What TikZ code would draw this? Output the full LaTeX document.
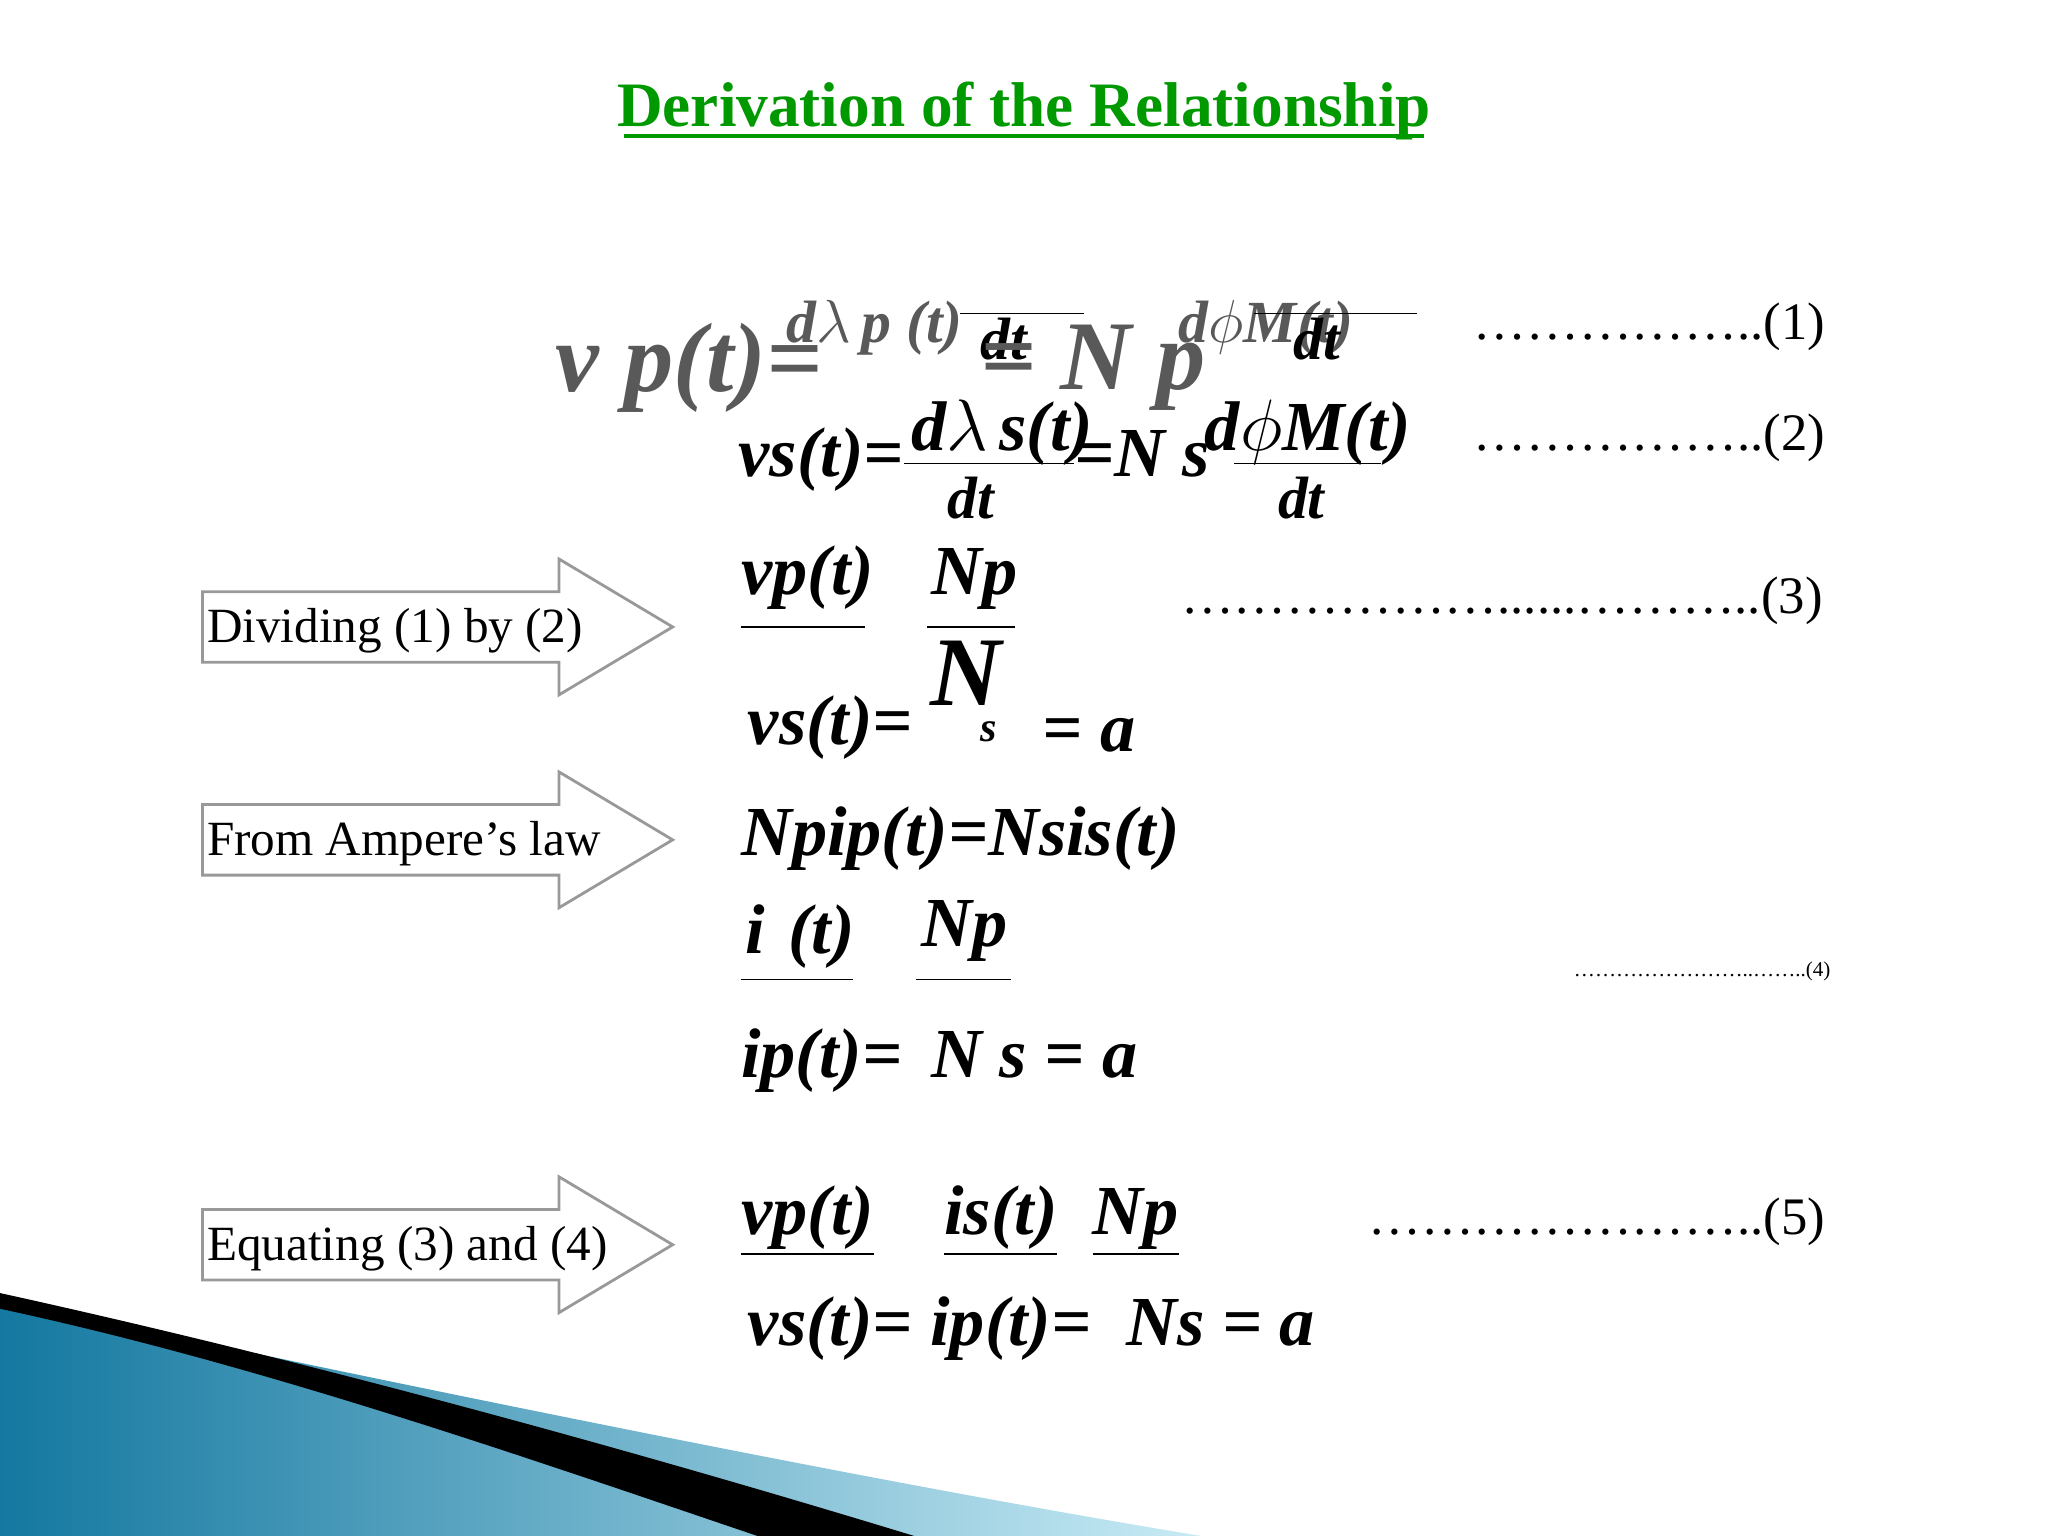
\documentclass[tikz,border=0pt]{standalone}
\usepackage{fontspec}
\setmainfont{Liberation Serif}
\definecolor{teal1}{RGB}{20,120,160}
\definecolor{teal2}{RGB}{200,235,245}
\begin{document}
\begin{tikzpicture}[x=0.01306cm,y=-0.01306cm,
  eq/.style={font=\fontsize{20}{22}\selectfont\bfseries\itshape,inner sep=0pt,anchor=base west},
  eqs/.style={font=\fontsize{17}{19}\selectfont\bfseries\itshape,inner sep=0pt,anchor=base west},
  dots/.style={font=\fontsize{15}{18}\selectfont,inner sep=0pt,anchor=base east},
  lab/.style={font=\fontsize{14}{17}\selectfont,inner sep=0pt,anchor=base west},
  barrow/.style={draw=gray!80,fill=white,line width=0.8pt}]
\useasboundingbox (0,0) rectangle (1568,1176);
\fill[white] (0,0) rectangle (1568,1176);
% bottom-left decoration
\shade[left color=teal1,right color=teal2] (0,995) .. controls (400,1080) and (700,1140) .. (920,1176) -- (0,1176) -- cycle;
\fill[black] (0,990) .. controls (250,1045) and (500,1115) .. (700,1176) -- (580,1176) .. controls (400,1115) and (200,1045) .. (0,1002) -- cycle;
% title
\node[font=\fontsize{18}{22}\selectfont\bfseries,text=green!60!black,inner sep=0pt] (title) at (784,85) {Derivation of the Relationship};
\draw[green!60!black,line width=1.2pt] (478,104) -- (1090,104);
% block arrows
\foreach \n/\y/\t in {a1/480/{Dividing (1) by (2)},a2/643/{From Ampere’s law},a3/953/{Equating (3) and (4)}}{
  \draw[barrow] (155,\y-27) -- (428,\y-27) -- (428,\y-52) -- (515,\y) -- (428,\y+52) -- (428,\y+27) -- (155,\y+27) -- cycle;
  \node[lab] (\n) at (158,\y+12) {\t};
}
% eq 1 (blurry larger)
\node[eq,text=gray!70!black,font=\fontsize{28}{30}\selectfont\bfseries\itshape] (e1) at (425,300) {v p(t)=};
\node[eqs,text=gray!70!black] (e1b) at (602,262) {d$\lambda$\,p (t)};
\node[eqs] (e1c) at (750,275) {dt};
\draw (735,240) -- (830,240);
\node[eq,text=gray!70!black,font=\fontsize{28}{30}\selectfont\bfseries\itshape] (e1d) at (750,298) {= N p};
\node[eqs,text=gray!70!black] (e1e) at (902,262) {d$\phi$M(t)};
\node[eqs] (e1f) at (990,275) {dt};
\draw (960,240) -- (1085,240);
\node[dots] (d1) at (1398,260) {……………..(1)};
% eq 2
\node[eq] (e2) at (565,365) {vs(t)=};
\node[eq] (e2b) at (697,345) {d$\lambda$\,s(t)};
\draw (692,355) -- (822,355);
\node[eqs] (e2c) at (725,397) {dt};
\node[eq] (e2d) at (822,365) {=N s};
\node[eq] (e2e) at (922,345) {d$\phi$M(t)};
\draw (945,355) -- (1057,355);
\node[eqs] (e2f) at (978,397) {dt};
\node[dots] (d2) at (1398,345) {……………..(2)};
% eq 3
\node[eq] (e3a) at (567,455) {vp(t)};
\draw (567,480) -- (662,480);
\node[eq] (e3b) at (713,455) {Np};
\draw (710,480) -- (777,480);
\node[eq] (e3c) at (572,570) {vs(t)=};
\node[eq,font=\fontsize{28}{30}\selectfont\bfseries\itshape] (e3d) at (712,540) {N};
\node[eqs,font=\fontsize{12}{14}\selectfont\bfseries\itshape] (e3e) at (750,568) {s};
\node[eq] (e3f) at (798,575) {= a};
\node[dots] (d3) at (1396,470) {………………......………..(3)};
% Ampere
\node[eq] (e4a) at (567,655) {Npip(t)=Nsis(t)};
\node[eq] (e4b) at (570,730) {i\,\,(t)};
\draw (567,750) -- (653,750);
\node[eq] (e4c) at (705,725) {Np};
\draw (701,750) -- (774,750);
\node[eq] (e4d) at (567,825) {ip(t)=\, N s = a};
\node[dots,font=\fontsize{6}{7}\selectfont] (d4) at (1402,748) {……………………..……..(4)};
% eq 5
\node[eq] (e5a) at (567,945) {\underline{vp(t)}\quad \underline{is(t)}\ \ \underline{Np}};
\node[eq] (e5b) at (572,1030) {vs(t)= ip(t)=\ \ Ns = a};
\node[dots] (d5) at (1398,945) {…………………..(5)};
\end{tikzpicture}
\end{document}
